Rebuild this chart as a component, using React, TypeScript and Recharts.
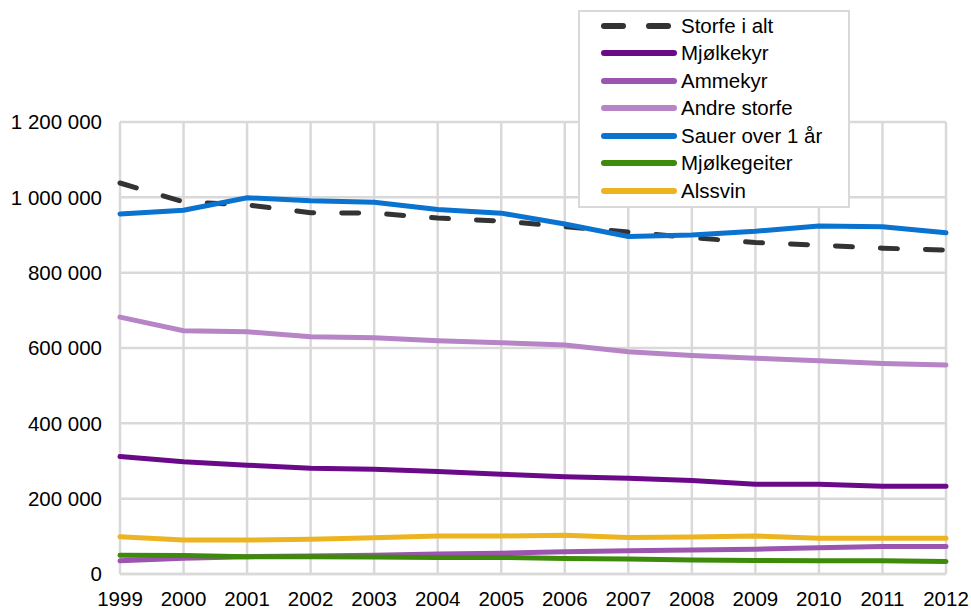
import { LineChart, Line, XAxis, YAxis, CartesianGrid } from "recharts";

const years = [
  "1999", "2000", "2001", "2002", "2003", "2004", "2005",
  "2006", "2007", "2008", "2009", "2010", "2011", "2012",
];

const storfeIAlt = [1038000, 988000, 980000, 959000, 958000, 945000, 937000, 922000, 908000, 893000, 880000, 873000, 865000, 860000];
const mjolkekyr = [312000, 298000, 289000, 281000, 278000, 272000, 265000, 258000, 254000, 248000, 238000, 238000, 233000, 233000];
const ammekyr = [35000, 42000, 46000, 48000, 50000, 53000, 55000, 59000, 62000, 64000, 66000, 70000, 73000, 73000];
const andreStorfe = [682000, 646000, 643000, 630000, 627000, 619000, 614000, 608000, 590000, 580000, 573000, 566000, 559000, 555000];
const sauer = [956000, 966000, 999000, 991000, 987000, 968000, 958000, 929000, 896000, 900000, 910000, 924000, 922000, 906000];
const mjolkegeiter = [50000, 49000, 46000, 46000, 45000, 44000, 44000, 41000, 40000, 37000, 36000, 35000, 35000, 33000];
const alssvin = [99000, 90000, 90000, 92000, 96000, 101000, 101000, 103000, 97000, 98000, 101000, 95000, 95000, 95000];

const yTicks = [0, 200000, 400000, 600000, 800000, 1000000, 1200000];

const series = [
  { key: "storfe", name: "Storfe i alt", color: "#333333", dashed: true },
  { key: "mjolkekyr", name: "Mjølkekyr", color: "#6b0a88", dashed: false },
  { key: "ammekyr", name: "Ammekyr", color: "#9b55ae", dashed: false },
  { key: "andre", name: "Andre storfe", color: "#b784c6", dashed: false },
  { key: "sauer", name: "Sauer over 1 år", color: "#0a72cf", dashed: false },
  { key: "geiter", name: "Mjølkegeiter", color: "#3e8a0a", dashed: false },
  { key: "svin", name: "Alssvin", color: "#edb421", dashed: false },
];

const data = years.map((year, i) => ({
  year,
  storfe: storfeIAlt[i],
  mjolkekyr: mjolkekyr[i],
  ammekyr: ammekyr[i],
  andre: andreStorfe[i],
  sauer: sauer[i],
  geiter: mjolkegeiter[i],
  svin: alssvin[i],
}));

const FONT = "'Liberation Sans', Arial, sans-serif";
const DASH = "17 28";

const formatThousands = (v: number) =>
  String(v).replace(/\B(?=(\d{3})+(?!\d))/g, " ");

// legend sits on top of the plot, so it is drawn outside the chart's layout
function LegendBox() {
  return (
    <div
      style={{
        position: "absolute",
        left: 578,
        top: 10,
        width: 272,
        height: 198,
        border: "2px solid #d9d9d9",
        background: "#fff",
        boxSizing: "border-box",
        paddingTop: 0,
        fontFamily: FONT,
        fontSize: 20.5,
        color: "#000",
      }}
    >
      {series.map((s) => (
        <div key={s.key} style={{ display: "flex", alignItems: "center", height: 27.5 }}>
          <svg width={100} height={12} style={{ flex: "none" }}>
            <line
              x1={24}
              x2={94}
              y1={6}
              y2={6}
              stroke={s.color}
              strokeWidth={6}
              strokeLinecap="round"
              strokeDasharray={s.dashed ? "19 26" : undefined}
            />
          </svg>
          <span style={{ marginLeft: 1, lineHeight: "22px" }}>{s.name}</span>
        </div>
      ))}
    </div>
  );
}

export default function App() {
  return (
    <div style={{ position: "absolute", left: 0, top: 0, width: 971, height: 610, background: "#fff" }}>
      <LineChart
        width={971}
        height={610}
        data={data}
        margin={{ top: 122, right: 25, bottom: 6, left: 0 }}
      >
        <CartesianGrid stroke="#d9d9d9" strokeWidth={2.5} />
        <XAxis
          dataKey="year"
          height={30}
          axisLine={{ stroke: "#d9d9d9", strokeWidth: 2.5 }}
          tickLine={false}
          tickSize={0}
          tickMargin={17}
          interval={0}
          tick={{ fill: "#000", fontSize: 20.5, fontFamily: FONT }}
        />
        <YAxis
          width={120}
          domain={[0, 1200000]}
          ticks={yTicks}
          axisLine={false}
          tickLine={false}
          tickSize={0}
          tickMargin={18}
          tickFormatter={formatThousands}
          tick={{ fill: "#000", fontSize: 20.5, fontFamily: FONT }}
        />
        {series.map((s) => (
          <Line
            key={s.key}
            dataKey={s.key}
            name={s.name}
            stroke={s.color}
            strokeWidth={5}
            strokeDasharray={s.dashed ? DASH : undefined}
            strokeLinecap="round"
            dot={false}
            activeDot={false}
            isAnimationActive={false}
          />
        ))}
      </LineChart>
      <LegendBox />
    </div>
  );
}
